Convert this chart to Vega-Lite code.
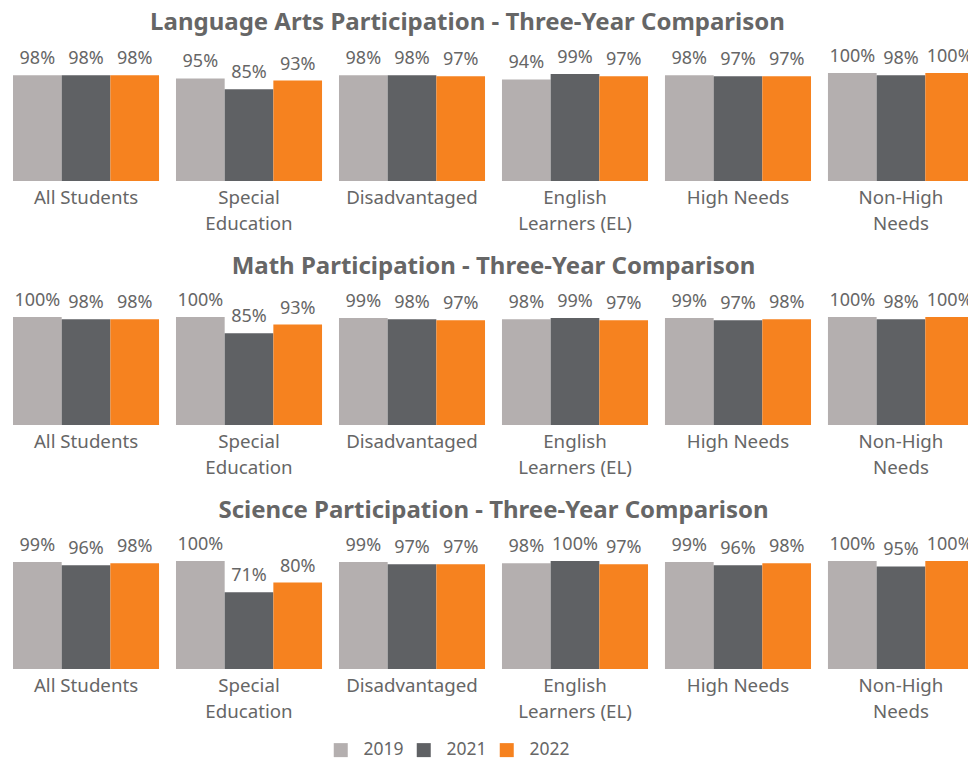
{
  "$schema": "https://vega.github.io/schema/vega-lite/v6.json",
  "background": "white",
  "padding": {"left": 13, "top": 11, "right": 0, "bottom": 4},
  "config": {
    "font": "Noto Sans",
    "view": {"stroke": null},
    "concat": {"spacing": 22},
    "title": {"fontSize": 24, "fontWeight": "bold", "color": "#666666", "anchor": "middle", "offset": 13}
  },
  "data": {
    "values": [
      {"subject": "Language Arts", "group": "All Students", "year": "2019", "value": 0.98},
      {"subject": "Language Arts", "group": "All Students", "year": "2021", "value": 0.98},
      {"subject": "Language Arts", "group": "All Students", "year": "2022", "value": 0.98},
      {"subject": "Language Arts", "group": "Special Education", "year": "2019", "value": 0.95},
      {"subject": "Language Arts", "group": "Special Education", "year": "2021", "value": 0.85},
      {"subject": "Language Arts", "group": "Special Education", "year": "2022", "value": 0.93},
      {"subject": "Language Arts", "group": "Disadvantaged", "year": "2019", "value": 0.98},
      {"subject": "Language Arts", "group": "Disadvantaged", "year": "2021", "value": 0.98},
      {"subject": "Language Arts", "group": "Disadvantaged", "year": "2022", "value": 0.97},
      {"subject": "Language Arts", "group": "English Learners (EL)", "year": "2019", "value": 0.94},
      {"subject": "Language Arts", "group": "English Learners (EL)", "year": "2021", "value": 0.99},
      {"subject": "Language Arts", "group": "English Learners (EL)", "year": "2022", "value": 0.97},
      {"subject": "Language Arts", "group": "High Needs", "year": "2019", "value": 0.98},
      {"subject": "Language Arts", "group": "High Needs", "year": "2021", "value": 0.97},
      {"subject": "Language Arts", "group": "High Needs", "year": "2022", "value": 0.97},
      {"subject": "Language Arts", "group": "Non-High Needs", "year": "2019", "value": 1.00},
      {"subject": "Language Arts", "group": "Non-High Needs", "year": "2021", "value": 0.98},
      {"subject": "Language Arts", "group": "Non-High Needs", "year": "2022", "value": 1.00},
      {"subject": "Math", "group": "All Students", "year": "2019", "value": 1.00},
      {"subject": "Math", "group": "All Students", "year": "2021", "value": 0.98},
      {"subject": "Math", "group": "All Students", "year": "2022", "value": 0.98},
      {"subject": "Math", "group": "Special Education", "year": "2019", "value": 1.00},
      {"subject": "Math", "group": "Special Education", "year": "2021", "value": 0.85},
      {"subject": "Math", "group": "Special Education", "year": "2022", "value": 0.93},
      {"subject": "Math", "group": "Disadvantaged", "year": "2019", "value": 0.99},
      {"subject": "Math", "group": "Disadvantaged", "year": "2021", "value": 0.98},
      {"subject": "Math", "group": "Disadvantaged", "year": "2022", "value": 0.97},
      {"subject": "Math", "group": "English Learners (EL)", "year": "2019", "value": 0.98},
      {"subject": "Math", "group": "English Learners (EL)", "year": "2021", "value": 0.99},
      {"subject": "Math", "group": "English Learners (EL)", "year": "2022", "value": 0.97},
      {"subject": "Math", "group": "High Needs", "year": "2019", "value": 0.99},
      {"subject": "Math", "group": "High Needs", "year": "2021", "value": 0.97},
      {"subject": "Math", "group": "High Needs", "year": "2022", "value": 0.98},
      {"subject": "Math", "group": "Non-High Needs", "year": "2019", "value": 1.00},
      {"subject": "Math", "group": "Non-High Needs", "year": "2021", "value": 0.98},
      {"subject": "Math", "group": "Non-High Needs", "year": "2022", "value": 1.00},
      {"subject": "Science", "group": "All Students", "year": "2019", "value": 0.99},
      {"subject": "Science", "group": "All Students", "year": "2021", "value": 0.96},
      {"subject": "Science", "group": "All Students", "year": "2022", "value": 0.98},
      {"subject": "Science", "group": "Special Education", "year": "2019", "value": 1.00},
      {"subject": "Science", "group": "Special Education", "year": "2021", "value": 0.71},
      {"subject": "Science", "group": "Special Education", "year": "2022", "value": 0.80},
      {"subject": "Science", "group": "Disadvantaged", "year": "2019", "value": 0.99},
      {"subject": "Science", "group": "Disadvantaged", "year": "2021", "value": 0.97},
      {"subject": "Science", "group": "Disadvantaged", "year": "2022", "value": 0.97},
      {"subject": "Science", "group": "English Learners (EL)", "year": "2019", "value": 0.98},
      {"subject": "Science", "group": "English Learners (EL)", "year": "2021", "value": 1.00},
      {"subject": "Science", "group": "English Learners (EL)", "year": "2022", "value": 0.97},
      {"subject": "Science", "group": "High Needs", "year": "2019", "value": 0.99},
      {"subject": "Science", "group": "High Needs", "year": "2021", "value": 0.96},
      {"subject": "Science", "group": "High Needs", "year": "2022", "value": 0.98},
      {"subject": "Science", "group": "Non-High Needs", "year": "2019", "value": 1.00},
      {"subject": "Science", "group": "Non-High Needs", "year": "2021", "value": 0.95},
      {"subject": "Science", "group": "Non-High Needs", "year": "2022", "value": 1.00}
    ]
  },
  "vconcat": [
    {
      "title": {"text": "Language Arts Participation - Three-Year Comparison", "dx": -26},
      "width": 961, "height": 108,
      "transform": [{"filter": "datum.subject == 'Language Arts'"}],
      "encoding": {
        "x": {"field": "group", "type": "nominal", "sort": ["All Students", "Special Education", "Disadvantaged", "English Learners (EL)", "High Needs", "Non-High Needs"], "scale": {"paddingInner": 0.104, "paddingOuter": 0},
          "axis": {"title": null, "domain": false, "ticks": false, "labelAngle": 0, "labelFontSize": 18.7, "labelColor": "#666666", "labelPadding": 7, "labelLineHeight": 26, "labelBaseline": "top", "labelLimit": 300,
            "labelExpr": "datum.label == 'Special Education' ? ['Special', 'Education'] : datum.label == 'English Learners (EL)' ? ['English', 'Learners (EL)'] : datum.label == 'Non-High Needs' ? ['Non-High', 'Needs'] : datum.label"}},
        "xOffset": {"field": "year", "type": "nominal", "sort": ["2019", "2021", "2022"], "scale": {"paddingInner": 0, "paddingOuter": 0}},
        "y": {"field": "value", "type": "quantitative", "scale": {"domain": [0, 1]}, "axis": null}
      },
      "layer": [
        {"mark": {"type": "bar"}, "encoding": {"color": {"field": "year", "type": "nominal", "scale": {"domain": ["2019", "2021", "2022"], "range": ["#B4AFAF", "#5F6164", "#F6821F"]},
          "legend": {"orient": "none", "legendX": 319, "legendY": 668, "direction": "horizontal", "title": null, "symbolType": "square", "symbolSize": 196, "symbolStrokeWidth": 0, "labelFontSize": 17.5, "labelColor": "#666666", "labelOffset": 14, "columnPadding": 11}}}},
        {"mark": {"type": "text", "baseline": "bottom", "dy": -7, "fontSize": 18, "color": "#666666"}, "encoding": {"text": {"field": "value", "type": "quantitative", "format": ".0%"}}}
      ]
    },
    {
      "title": "Math Participation - Three-Year Comparison",
      "width": 961, "height": 108,
      "transform": [{"filter": "datum.subject == 'Math'"}],
      "encoding": {
        "x": {"field": "group", "type": "nominal", "sort": ["All Students", "Special Education", "Disadvantaged", "English Learners (EL)", "High Needs", "Non-High Needs"], "scale": {"paddingInner": 0.104, "paddingOuter": 0},
          "axis": {"title": null, "domain": false, "ticks": false, "labelAngle": 0, "labelFontSize": 18.7, "labelColor": "#666666", "labelPadding": 7, "labelLineHeight": 26, "labelBaseline": "top", "labelLimit": 300,
            "labelExpr": "datum.label == 'Special Education' ? ['Special', 'Education'] : datum.label == 'English Learners (EL)' ? ['English', 'Learners (EL)'] : datum.label == 'Non-High Needs' ? ['Non-High', 'Needs'] : datum.label"}},
        "xOffset": {"field": "year", "type": "nominal", "sort": ["2019", "2021", "2022"], "scale": {"paddingInner": 0, "paddingOuter": 0}},
        "y": {"field": "value", "type": "quantitative", "scale": {"domain": [0, 1]}, "axis": null}
      },
      "layer": [
        {"mark": {"type": "bar"}, "encoding": {"color": {"field": "year", "type": "nominal"}}},
        {"mark": {"type": "text", "baseline": "bottom", "dy": -7, "fontSize": 18, "color": "#666666"}, "encoding": {"text": {"field": "value", "type": "quantitative", "format": ".0%"}}}
      ]
    },
    {
      "title": "Science Participation - Three-Year Comparison",
      "width": 961, "height": 108,
      "transform": [{"filter": "datum.subject == 'Science'"}],
      "encoding": {
        "x": {"field": "group", "type": "nominal", "sort": ["All Students", "Special Education", "Disadvantaged", "English Learners (EL)", "High Needs", "Non-High Needs"], "scale": {"paddingInner": 0.104, "paddingOuter": 0},
          "axis": {"title": null, "domain": false, "ticks": false, "labelAngle": 0, "labelFontSize": 18.7, "labelColor": "#666666", "labelPadding": 7, "labelLineHeight": 26, "labelBaseline": "top", "labelLimit": 300,
            "labelExpr": "datum.label == 'Special Education' ? ['Special', 'Education'] : datum.label == 'English Learners (EL)' ? ['English', 'Learners (EL)'] : datum.label == 'Non-High Needs' ? ['Non-High', 'Needs'] : datum.label"}},
        "xOffset": {"field": "year", "type": "nominal", "sort": ["2019", "2021", "2022"], "scale": {"paddingInner": 0, "paddingOuter": 0}},
        "y": {"field": "value", "type": "quantitative", "scale": {"domain": [0, 1]}, "axis": null}
      },
      "layer": [
        {"mark": {"type": "bar"}, "encoding": {"color": {"field": "year", "type": "nominal"}}},
        {"mark": {"type": "text", "baseline": "bottom", "dy": -7, "fontSize": 18, "color": "#666666"}, "encoding": {"text": {"field": "value", "type": "quantitative", "format": ".0%"}}}
      ]
    }
  ]
}
